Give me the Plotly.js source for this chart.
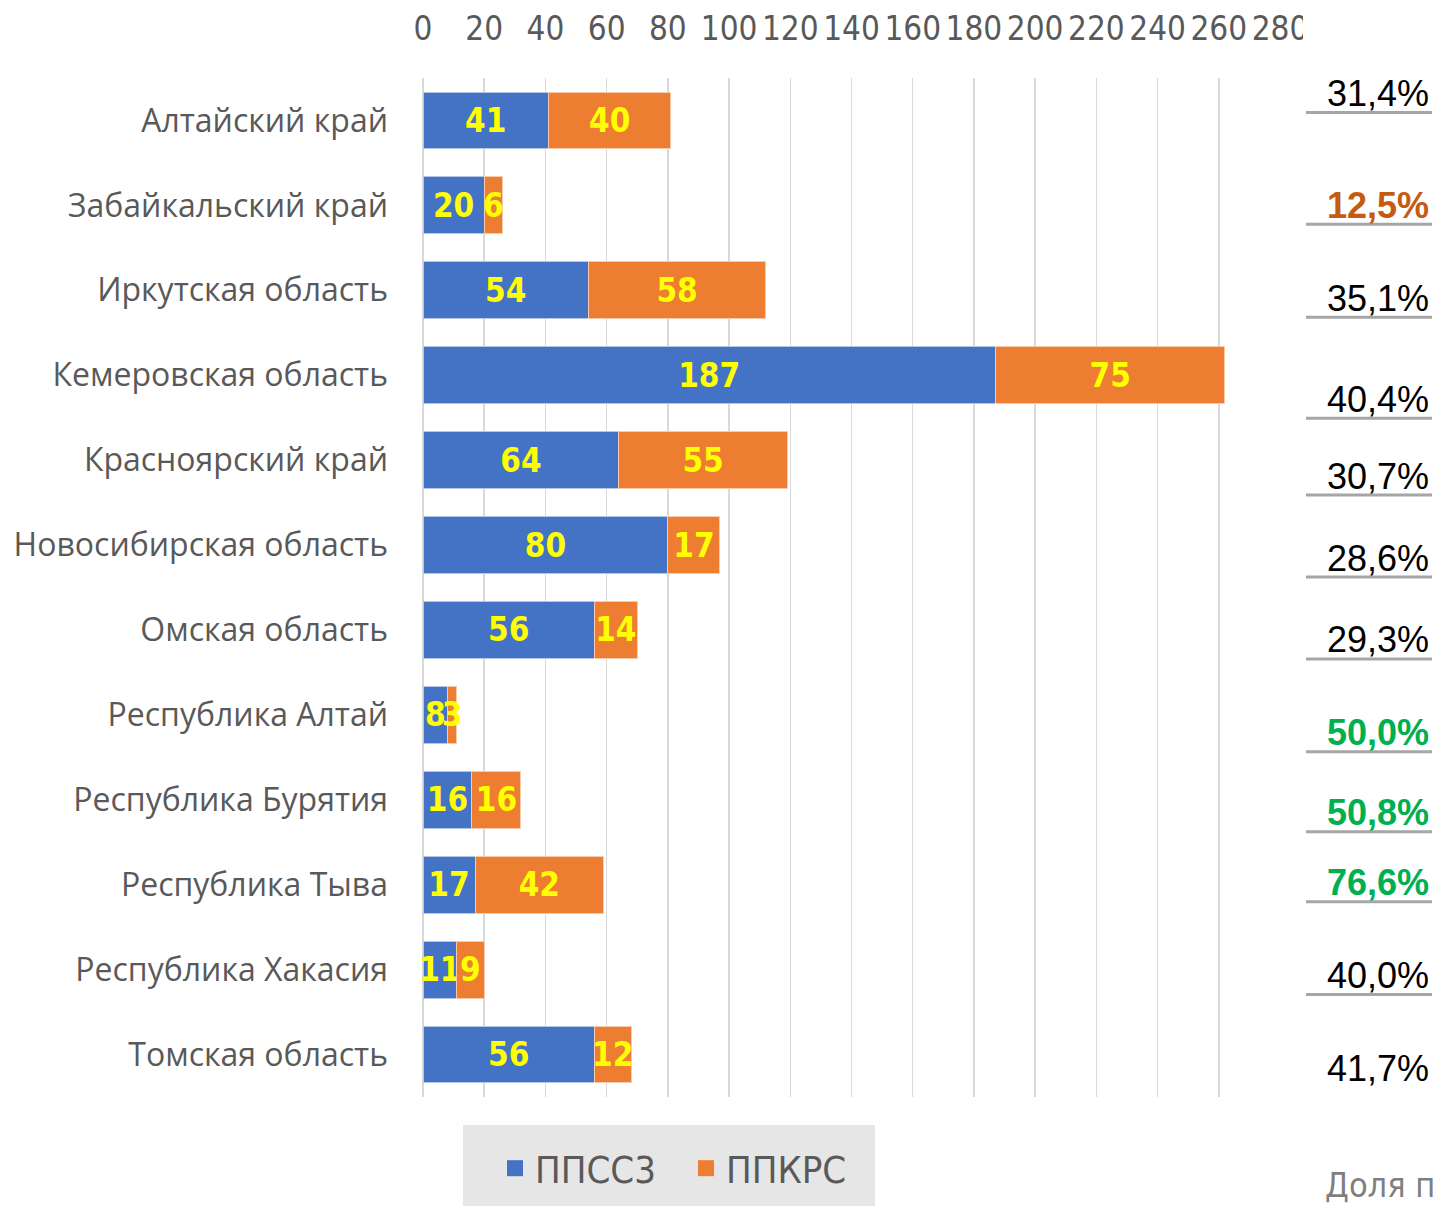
<!DOCTYPE html>
<html>
<head>
<meta charset="utf-8">
<script src="https://cdn.plot.ly/plotly-3.0.1.min.js"></script>
<style>
  html, body { margin: 0; padding: 0; background: #fff; }
  #chart { width: 1437px; height: 1206px; }
</style>
</head>
<body>
<div id="chart"></div>
<script>
// ---- data ----
const regions = [
  "Алтайский край",
  "Забайкальский край",
  "Иркутская область",
  "Кемеровская область",
  "Красноярский край",
  "Новосибирская область",
  "Омская область",
  "Республика Алтай",
  "Республика Бурятия",
  "Республика Тыва",
  "Республика Хакасия",
  "Томская область"
];
const ppssz = [41, 20, 54, 187, 64, 80, 56, 8, 16, 17, 11, 56];
const ppkrs = [40, 6, 58, 75, 55, 17, 14, 3, 16, 42, 9, 12];
const shareLabels = ["31,4%", "12,5%", "35,1%", "40,4%", "30,7%", "28,6%", "29,3%", "50,0%", "50,8%", "76,6%", "40,0%", "41,7%"];
const xTicks = [0, 20, 40, 60, 80, 100, 120, 140, 160, 180, 200, 220, 240, 260, 280];

// ---- styling / layout helpers (not data) ----
const shareStyle = ["n", "low", "n", "n", "n", "n", "n", "high", "high", "high", "n", "n"];
const shareOffsetPx = [-27, 0, 8, 24, 16, 13, 10, 18, 13, -2, 6, 14]; // label centre vs bar centre
const shareUnderline = [1,1,1,1,1,1,1,1,1,1,1,0];
const bandPx = 85;
const narrow = '"Liberation Sans Narrow", "Arial Narrow", "DejaVu Sans Condensed", "Roboto", sans-serif';
const blue = '#4472C4', orange = '#ED7D31';

const barCommon = {
  type: 'bar',
  orientation: 'h',
  y: regions,
  width: 0.67,
  textposition: 'inside',
  insidetextanchor: 'middle',
  textangle: 0,
  constraintext: 'none',
  cliponaxis: false,
  showlegend: false,
  textfont: { family: narrow, size: 33, color: '#FFFF00', weight: 'bold' },
  hoverinfo: 'x+y+name'
};

const traces = [
  Object.assign({}, barCommon, {
    name: 'ППСС3',
    x: ppssz,
    text: ppssz.map(String),
    marker: { color: blue, line: { color: '#B4C7E7', width: 1 } }
  }),
  Object.assign({}, barCommon, {
    name: 'ППКРС',
    x: ppkrs,
    text: ppkrs.map(String),
    marker: { color: orange, line: { color: '#F8CBAD', width: 1 } }
  }),
  // legend entries (larger square keys, as in the original)
  { type: 'scatter', mode: 'markers', name: 'ППСС3', x: [null], y: [null],
    marker: { symbol: 'square', size: 16, color: blue }, showlegend: true, hoverinfo: 'skip' },
  { type: 'scatter', mode: 'markers', name: 'ППКРС', x: [null], y: [null],
    marker: { symbol: 'square', size: 16, color: orange }, showlegend: true, hoverinfo: 'skip' }
];

const plotL = 423, plotR = 1280, plotT = 78, plotB = 1097;
const pxToPaperX = px => (px - plotL) / (plotR - plotL);
const pxToPaperY = py => (plotB - py) / (plotB - plotT);

const annotations = [];
const shapes = [];
shareLabels.forEach((lab, i) => {
  const st = shareStyle[i];
  annotations.push({
    xref: 'paper', yref: 'y',
    x: pxToPaperX(1431), y: i,
    yshift: -shareOffsetPx[i],
    xanchor: 'right', yanchor: 'middle',
    showarrow: false,
    text: lab,
    font: {
      family: '"Liberation Sans", Arial, sans-serif',
      size: 36,
      color: st === 'low' ? '#C55A11' : (st === 'high' ? '#00B050' : '#000000'),
      weight: st === 'n' ? 'normal' : 'bold'
    }
  });
  if (shareUnderline[i]) {
    const yy = i + (shareOffsetPx[i] + 19) / bandPx;
    shapes.push({
      type: 'line', xref: 'paper', yref: 'y',
      x0: pxToPaperX(1306), x1: pxToPaperX(1432), y0: yy, y1: yy,
      line: { color: '#A6A6A6', width: 3 }
    });
  }
});

// legend background box
shapes.push({
  type: 'rect', xref: 'paper', yref: 'paper', layer: 'below',
  x0: pxToPaperX(463), x1: pxToPaperX(875),
  y0: pxToPaperY(1125), y1: pxToPaperY(1215),
  fillcolor: '#E6E6E6', line: { width: 0 }
});
// the top axis label "280" is cut by the chart frame in the original
shapes.push({
  type: 'rect', xref: 'paper', yref: 'paper', layer: 'above',
  x0: pxToPaperX(1303), x1: pxToPaperX(1322),
  y0: pxToPaperY(60), y1: pxToPaperY(0),
  fillcolor: '#FFFFFF', line: { width: 0 }
});

annotations.push({
  xref: 'paper', yref: 'paper',
  x: pxToPaperX(1323), y: pxToPaperY(1185),
  xanchor: 'left', yanchor: 'middle', showarrow: false,
  text: 'Доля приема',
  font: { family: narrow, size: 34, color: '#7F7F7F' }
});

const layout = {
  width: 1437,
  height: 1206,
  margin: { l: plotL, r: 1437 - plotR, t: plotT, b: 1206 - plotB, pad: 0, autoexpand: false },
  paper_bgcolor: '#FFFFFF',
  plot_bgcolor: '#FFFFFF',
  barmode: 'stack',
  showlegend: true,
  xaxis: {
    side: 'top',
    range: [0, 280],
    tickvals: xTicks,
    ticktext: xTicks.map(String),
    showgrid: true,
    gridcolor: '#D9D9D9',
    gridwidth: 1.5,
    zeroline: true,
    zerolinecolor: '#D9D9D9',
    zerolinewidth: 1.5,
    showline: false,
    ticks: '',
    ticklabelstandoff: 30,
    tickfont: { family: narrow, size: 33, color: '#595959' },
    fixedrange: true,
    automargin: false
  },
  yaxis: {
    type: 'category',
    categoryorder: 'array',
    categoryarray: regions,
    range: [11.5, -0.5],
    showgrid: false,
    zeroline: false,
    showline: false,
    ticks: '',
    ticklabelstandoff: 34,
    tickfont: { family: '"Open Sans", "Noto Sans", sans-serif', size: 32, color: '#595959' },
    fixedrange: true,
    automargin: false
  },
  legend: {
    orientation: 'h',
    x: pxToPaperX(686), xanchor: 'center',
    y: pxToPaperY(1137), yanchor: 'top',
    bgcolor: 'rgba(0,0,0,0)',
    borderwidth: 0,
    entrywidth: 146,
    itemsizing: 'trace',
    font: { family: narrow, size: 38, color: '#595959' },
    traceorder: 'normal'
  },
  annotations: annotations,
  shapes: shapes
};

Plotly.newPlot('chart', traces, layout, { displayModeBar: false, staticPlot: true });
</script>
</body>
</html>
